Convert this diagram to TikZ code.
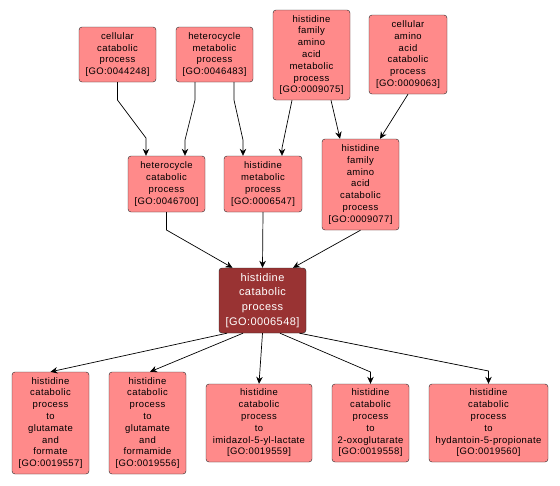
\documentclass[tikz,border=0pt]{standalone}
\usepackage{fontspec}
\setmainfont{Liberation Sans}
\newfontfamily\gofont[LetterSpace=4]{Liberation Sans}
\usetikzlibrary{arrows.meta, positioning}
\definecolor{termpink}{RGB}{255,138,138}
\definecolor{focusred}{RGB}{153,51,51}

\begin{document}
\begin{tikzpicture}[x=1pt, y=-1pt,
    term/.style={draw=black!85, fill=termpink, rectangle, rounded corners=3pt, align=center, inner sep=0pt, minimum width=77pt, font=\gofont\fontsize{9.5}{11.8}\selectfont},
    focus/.style={term, fill=focusred, text=white, font=\gofont\fontsize{11}{14.8}\selectfont},
    >={Stealth[length=7pt, width=6.5pt]}
  ]
    \def\edgewidth{0.7}
  \useasboundingbox (0,0) rectangle (560,485);
  \node[term, minimum height=55pt] (A) at (117.5,54.5) {cellular\\catabolic\\process\\{[GO:0044248]}};
  \node[term, minimum height=55pt] (B) at (214.5,54.5) {heterocycle\\metabolic\\process\\{[GO:0046483]}};
  \node[term, minimum height=90pt] (C) at (311.5,55) {histidine\\family\\amino\\acid\\metabolic\\process\\{[GO:0009075]}};
  \node[term, minimum height=79pt, minimum width=78pt] (D) at (408,54.5) {cellular\\amino\\acid\\catabolic\\process\\{[GO:0009063]}};
  \node[term, minimum height=56pt] (E) at (166.5,184) {heterocycle\\catabolic\\process\\{[GO:0046700]}};
  \node[term, minimum height=56pt, minimum width=78pt] (F) at (263,184) {histidine\\metabolic\\process\\{[GO:0006547]}};
  \node[term, minimum height=91pt] (G) at (360.5,184.5) {histidine\\family\\amino\\acid\\catabolic\\process\\{[GO:0009077]}};

  \node[focus, minimum height=65pt, minimum width=87pt] (H) at (262.5,300.5) {histidine\\catabolic\\process\\{[GO:0006548]}};

  \node[term, minimum height=102pt] (I) at (50.5,423) {histidine\\catabolic\\process\\to\\glutamate\\and\\formate\\{[GO:0019557]}};
  \node[term, minimum height=102pt] (J) at (147.5,423) {histidine\\catabolic\\process\\to\\glutamate\\and\\formamide\\{[GO:0019556]}};
  \node[term, minimum height=78pt, minimum width=106pt] (K) at (259,423) {histidine\\catabolic\\process\\to\\imidazol-5-yl-lactate\\{[GO:0019559]}};
  \node[term, minimum height=78pt] (L) at (370.5,423) {histidine\\catabolic\\process\\to\\2-oxoglutarate\\{[GO:0019558]}};
  \node[term, minimum height=78pt, minimum width=119pt] (M) at (488.5,423) {histidine\\catabolic\\process\\to\\hydantoin-5-propionate\\{[GO:0019560]}};

  \draw[->, line width = \edgewidth] (A.south) -- (117.5,100) -- (146,138) -- ([xshift=-20.5pt]E.north);
  \draw[->, line width = \edgewidth] ([xshift=-19.5pt]B.south) -- (195,100) -- (185,140) -- ([xshift=18.5pt]E.north);
  \draw[->, line width = \edgewidth] ([xshift=19.5pt]B.south) -- (234,100) -- (243,140) -- ([xshift=-20pt]F.north);
  \draw[->, line width = \edgewidth] ([xshift=-19.5pt]C.south) -- (282,148) -- ([xshift=19pt]F.north);
  \draw[->, line width = \edgewidth] ([xshift=19.5pt]C.south) -- ([xshift=-20.5pt]G.north);
  \draw[->, line width = \edgewidth] (D.south) -- ([xshift=19.5pt]G.north);
  \draw[->, line width = \edgewidth] (E.south) -- (166.5,230) -- ([xshift=-30pt]H.north);
  \draw[->, line width = \edgewidth] (F.south) -- (H.north);
  \draw[->, line width = \edgewidth] (G.south) -- ([xshift=30.5pt]H.north);
  \draw[->, line width = \edgewidth] ([xshift=-35.5pt]H.south) -- (I.north);
  \draw[->, line width = \edgewidth] ([xshift=-19.5pt]H.south) -- ([xshift=2.5pt]J.north);
  \draw[->, line width = \edgewidth] (H.south) -- (K.north);
  \draw[->, line width = \edgewidth] ([xshift=17.5pt]H.south) -- (370.5,372) -- (L.north);
  \draw[->, line width = \edgewidth] ([xshift=37pt]H.south) -- (488.5,371) -- (M.north);
  \end{tikzpicture}
\end{document}
